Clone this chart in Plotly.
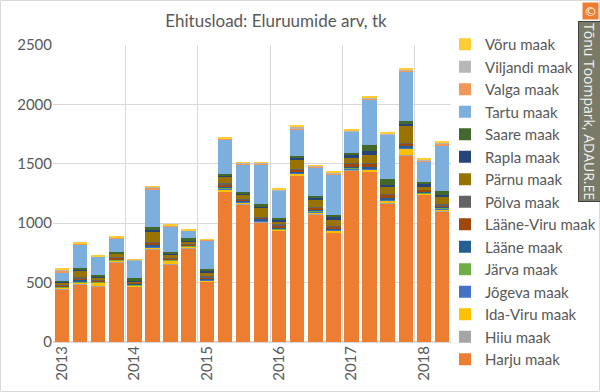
import plotly.graph_objects as go

# 22 quarters, 2013 Q1 .. 2018 Q2
quarters = ["2013 Q1", "2013 Q2", "2013 Q3", "2013 Q4",
            "2014 Q1", "2014 Q2", "2014 Q3", "2014 Q4",
            "2015 Q1", "2015 Q2", "2015 Q3", "2015 Q4",
            "2016 Q1", "2016 Q2", "2016 Q3", "2016 Q4",
            "2017 Q1", "2017 Q2", "2017 Q3", "2017 Q4",
            "2018 Q1", "2018 Q2"]
year_labels = ["2013", "2014", "2015", "2016", "2017", "2018"]

harju     = [445, 485, 465, 672, 468, 781, 650, 790, 510, 1266, 1160, 1008, 935, 1400, 1075, 921, 1445, 1434, 1165, 1571, 1240, 1100]
hiiu      = [5, 5, 3, 3, 3, 3, 3, 3, 3, 3, 3, 3, 5, 3, 3, 3, 3, 3, 3, 3, 3, 3]
ida_viru  = [5, 10, 30, 8, 5, 12, 30, 8, 8, 15, 15, 3, 8, 15, 15, 15, 8, 15, 25, 55, 8, 10]
jogeva    = [3, 5, 3, 3, 3, 5, 3, 3, 5, 10, 5, 8, 3, 5, 5, 5, 5, 5, 5, 5, 3, 10]
jarva     = [5, 8, 5, 5, 5, 5, 5, 5, 3, 5, 3, 3, 8, 5, 5, 5, 10, 5, 5, 5, 3, 5]
laane     = [3, 5, 5, 5, 5, 8, 5, 3, 8, 8, 5, 15, 8, 5, 5, 5, 5, 10, 10, 10, 8, 10]
laane_viru= [10, 20, 10, 15, 8, 20, 10, 8, 10, 20, 10, 8, 15, 15, 20, 15, 25, 30, 25, 25, 15, 15]
polva     = [5, 5, 5, 5, 5, 5, 5, 5, 5, 8, 5, 3, 8, 5, 5, 10, 5, 5, 5, 5, 3, 10]
parnu     = [20, 60, 20, 25, 10, 95, 25, 20, 30, 55, 35, 80, 25, 85, 70, 55, 50, 70, 65, 140, 20, 60]
rapla     = [5, 5, 8, 5, 5, 10, 10, 5, 20, 10, 5, 8, 8, 10, 15, 15, 15, 30, 15, 15, 30, 15]
saare     = [8, 15, 12, 10, 20, 20, 15, 25, 10, 15, 15, 20, 20, 20, 15, 20, 20, 50, 45, 30, 15, 30]
tartu     = [75, 200, 150, 115, 148, 316, 215, 60, 246, 286, 235, 335, 230, 222, 235, 345, 180, 380, 375, 415, 175, 390]
valga     = [10, 5, 3, 5, 3, 20, 3, 3, 3, 8, 5, 5, 5, 10, 8, 8, 5, 10, 5, 8, 3, 10]
viljandi  = [8, 5, 3, 5, 3, 5, 3, 3, 3, 8, 8, 8, 5, 12, 8, 8, 5, 10, 5, 10, 8, 10]
voru      = [8, 5, 5, 8, 3, 5, 5, 5, 3, 6, 5, 4, 5, 8, 5, 5, 5, 10, 8, 8, 8, 12]

series = [
    ("Harju maak", harju, "#ED7D31"),
    ("Hiiu maak", hiiu, "#A5A5A5"),
    ("Ida-Viru maak", ida_viru, "#FFC000"),
    ("Jõgeva maak", jogeva, "#4472C4"),
    ("Järva maak", jarva, "#70AD47"),
    ("Lääne maak", laane, "#255E91"),
    ("Lääne-Viru maak", laane_viru, "#9E480E"),
    ("Põlva maak", polva, "#636363"),
    ("Pärnu maak", parnu, "#997300"),
    ("Rapla maak", rapla, "#264478"),
    ("Saare maak", saare, "#43682B"),
    ("Tartu maak", tartu, "#7CAFDD"),
    ("Valga maak", valga, "#F1975A"),
    ("Viljandi maak", viljandi, "#B7B7B7"),
    ("Võru maak", voru, "#FFCD33"),
]

x_idx = list(range(len(quarters)))

fig = go.Figure()
for name, vals, col in series:
    fig.add_trace(go.Bar(
        x=x_idx, y=vals, name=name, customdata=quarters,
        marker=dict(color=col, line=dict(width=0)),
        hovertemplate="%{customdata}<br>" + name + ": %{y}<extra></extra>",
    ))

year_ticks = [i for i, q in enumerate(quarters) if q.endswith("Q1")]
year_bounds = [i - 0.5 for i in year_ticks]

L, R, T, B = 53, 149, 45, 50
PW, PH = 600 - L - R, 392 - T - B

def px(xp):
    return (xp - L) / PW

def py(yp):
    return (392 - B - yp) / PH

fig.update_layout(
    barmode="stack",
    bargap=0.2,
    width=600, height=392,
    margin=dict(l=L, r=R, t=T, b=B, autoexpand=False),
    paper_bgcolor="white", plot_bgcolor="white",
    font=dict(family="Lato, Open Sans, sans-serif", color="#595959"),
    title=dict(text="Ehitusload: Eluruumide arv, tk", xref="container", x=276 / 600,
               xanchor="center", y=1 - 21 / 392, yanchor="middle",
               font=dict(size=17, color="#595959")),
    showlegend=True,
    legend=dict(traceorder="reversed", x=px(445), xanchor="left", y=py(28), yanchor="top",
                font=dict(size=15, color="#595959"), bgcolor="rgba(0,0,0,0)",
                tracegroupgap=0, maxheight=392),
    xaxis=dict(
        range=[-0.5, len(quarters) - 0.5], automargin=False,
        tickmode="array", tickvals=year_ticks, ticktext=year_labels,
        tickangle=-90, tickfont=dict(size=15, color="#595959"),
        showgrid=False, zeroline=False, showline=False, ticks="",
        minor=dict(tickmode="array", tickvals=year_bounds, showgrid=True,
                   gridcolor="#D9D9D9", gridwidth=1, ticks=""),
    ),
    yaxis=dict(
        range=[0, 2500], dtick=500, automargin=False,
        tickfont=dict(size=15, color="#595959"),
        showgrid=True, gridcolor="#D9D9D9", gridwidth=1, zeroline=True,
        zerolinecolor="#D9D9D9", showline=False, ticks="", ticklen=0,
    ),
    hovermode="closest",
)

# outer frame
fig.add_shape(type="rect", xref="paper", yref="paper",
              x0=px(0.5), x1=px(599.5), y0=py(391.5), y1=py(0.5),
              line=dict(color="#D9D9D9", width=1), fillcolor="rgba(0,0,0,0)", layer="below")

# watermark
fig.add_annotation(xref="paper", yref="paper", x=px(590), y=py(11),
                   xanchor="center", yanchor="middle", text="©", showarrow=False,
                   font=dict(size=13, color="white", family="DejaVu Sans"),
                   bgcolor="#ED7D31", borderpad=0, width=15, height=16)
fig.add_annotation(xref="paper", yref="paper", x=px(590), y=py(111),
                   xanchor="center", yanchor="middle", text="Tõnu Toompark, ADAUR.EE",
                   textangle=90, showarrow=False,
                   font=dict(size=14, color="#F2F2F2", family="Open Sans"),
                   bgcolor="#7A7A68", bordercolor="#404040", borderwidth=1, borderpad=1)

fig.write_html("out.html", config={"displayModeBar": False},
               post_script="document.body.style.margin='0';document.body.style.overflow='hidden';")
